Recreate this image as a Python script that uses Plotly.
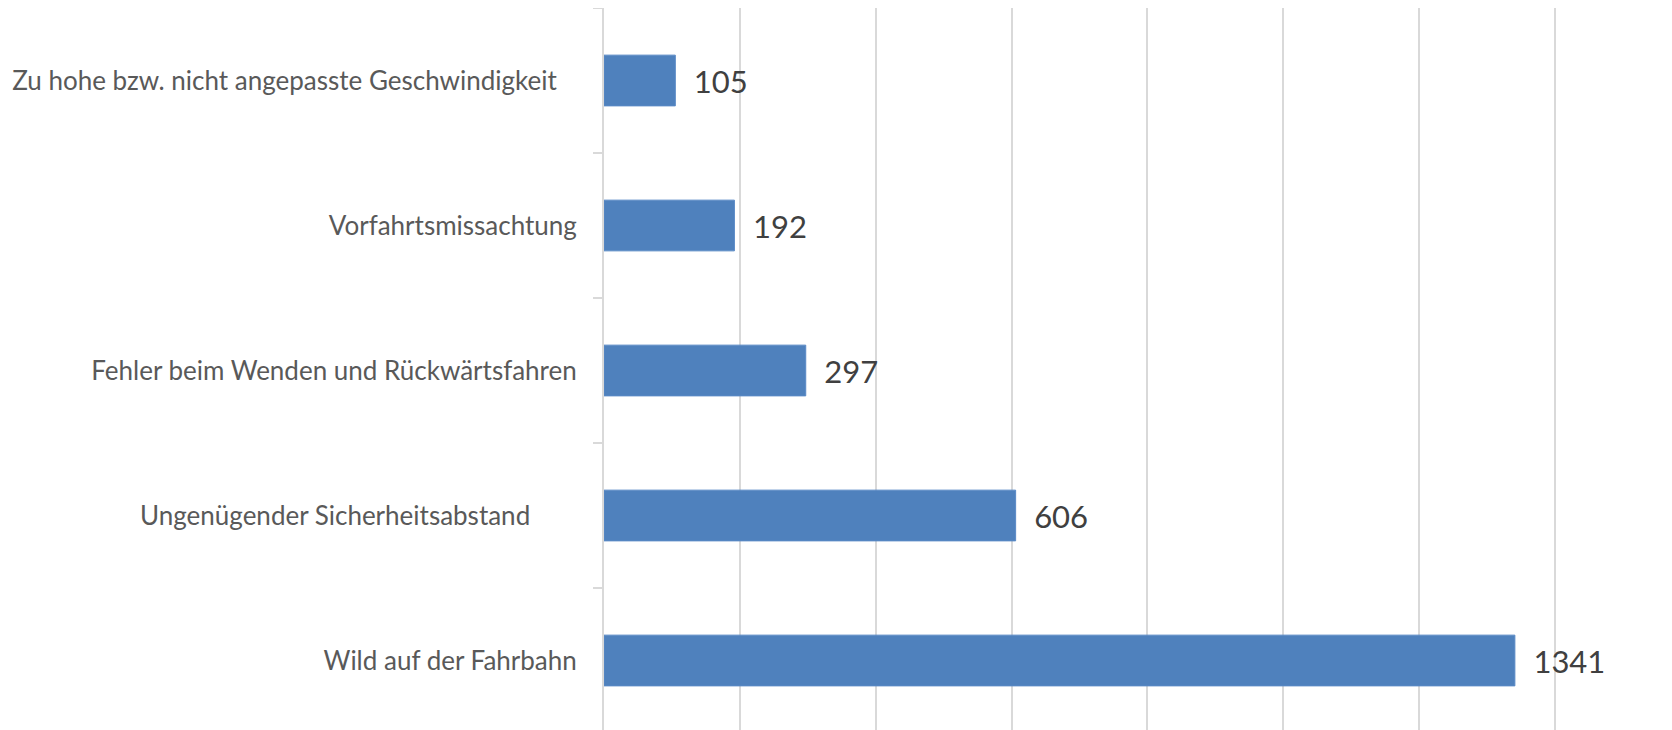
import plotly.graph_objects as go

# Unfallursachen (top to bottom as shown)
categories = [
    "Zu hohe bzw. nicht angepasste Geschwindigkeit",
    "Vorfahrtsmissachtung",
    "Fehler beim Wenden und Rückwärtsfahren",
    "Ungenügender Sicherheitsabstand",
    "Wild auf der Fahrbahn",
]
values = [105, 192, 297, 606, 1341]

_BAR = "#4f81bd"
_GRID = "#d9d9d9"
_FONT = "Lato, Open Sans, sans-serif"

# labels in the source are not flush right; pad some with trailing spaces
pad = [3, 0, 0, 7, 0]
ticktext = [c + "\u00a0" * p for c, p in zip(categories, pad)]

fig = go.Figure(go.Bar(
    x=values,
    y=categories,
    orientation="h",
    marker=dict(color=_BAR, line=dict(color="#5a8ac6", width=1)),
    width=0.35,
    text=values,
    texttemplate="\u2002%{x}",
    textposition="outside",
    textfont=dict(size=31, color="#404040", family=_FONT),
    cliponaxis=False,
    hovertemplate="%{y}: %{x}<extra></extra>",
))

# page body adds an 8px margin, so the figure is a bit smaller than the window
fig.update_layout(
    width=1664,
    height=725,
    margin=dict(l=596, r=115, t=0, b=0),
    plot_bgcolor="white",
    paper_bgcolor="white",
    showlegend=False,
    font=dict(family=_FONT, color="#595959", size=26),
)
fig.update_xaxes(
    range=[0, 1403],
    dtick=200,
    showgrid=True,
    gridcolor=_GRID,
    gridwidth=2,
    zeroline=False,
    showticklabels=False,
    automargin=False,
)
fig.update_yaxes(
    autorange="reversed",
    tickmode="array",
    tickvals=categories,
    ticktext=ticktext,
    showline=True,
    linecolor=_GRID,
    linewidth=2,
    ticks="outside",
    tickson="boundaries",
    ticklen=9,
    tickcolor=_GRID,
    tickwidth=2,
    ticklabelstandoff=20,
    showgrid=False,
    automargin=False,
)

fig.write_html("out.html")
